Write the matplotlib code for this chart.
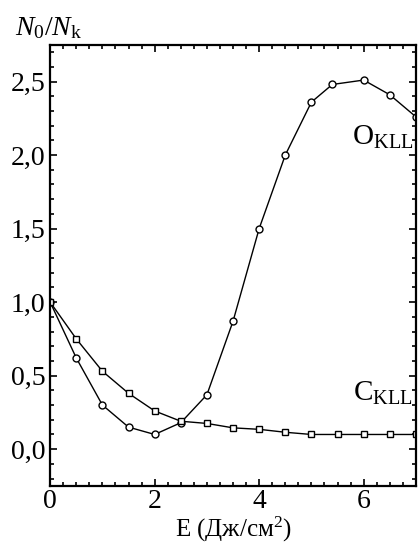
import matplotlib
matplotlib.use('Agg')
import matplotlib.pyplot as plt
from matplotlib.ticker import MultipleLocator, FuncFormatter

# Data
e_o = [0, 0.5, 1.0, 1.5, 2.0, 2.5, 3.0, 3.5, 4.0, 4.5, 5.0, 5.4, 6.0, 6.5, 7.0]
o_kll = [1.0, 0.62, 0.30, 0.15, 0.10, 0.18, 0.37, 0.87, 1.50, 2.00, 2.36, 2.48, 2.51, 2.41, 2.26]

e_c = [0, 0.5, 1.0, 1.5, 2.0, 2.5, 3.0, 3.5, 4.0, 4.5, 5.0, 5.5, 6.0, 6.5, 7.0]
c_kll = [1.0, 0.75, 0.53, 0.38, 0.26, 0.19, 0.175, 0.145, 0.135, 0.115, 0.10, 0.10, 0.10, 0.10, 0.10]

plt.rcParams['font.family'] = ['Liberation Serif', 'DejaVu Serif']
plt.rcParams['mathtext.fontset'] = 'custom'
plt.rcParams['mathtext.rm'] = 'Liberation Serif'
plt.rcParams['mathtext.it'] = 'Liberation Serif:italic'

fig = plt.figure(figsize=(4.18, 5.46), dpi=100)
ax = fig.add_axes([0.12, 0.11, 0.875, 0.808])

ax.plot(e_o, o_kll, color='black', lw=1.0, marker='o', ms=5,
        mfc='white', mec='black', mew=1.0)
ax.plot(e_c, c_kll, color='black', lw=1.0, marker='s', ms=5,
        mfc='white', mec='black', mew=1.0)

ax.set_xlim(0, 7)
ax.set_ylim(-0.25, 2.75)

ax.xaxis.set_major_locator(MultipleLocator(2))
ax.xaxis.set_minor_locator(MultipleLocator(0.25))
ax.yaxis.set_major_locator(MultipleLocator(0.5))
ax.yaxis.set_minor_locator(MultipleLocator(0.1))
ax.yaxis.set_major_formatter(FuncFormatter(lambda v, p: f'{v:.1f}'.replace('.', ',')))

ax.tick_params(which='both', direction='in', top=True, right=True, labelsize=20, width=1.2)
ax.tick_params(axis='x', pad=2)
ax.tick_params(which='major', length=5)
ax.tick_params(which='minor', length=3)
for s in ax.spines.values():
    s.set_linewidth(1.6)

ax.set_xlabel('E (Дж/см$^2$)', fontsize=18, labelpad=1)
fig.text(0.035, 0.935, r'$N_0/N_{\mathrm{k}}$', fontsize=20)

ax.text(6.95, 2.12, r'O$_{\mathrm{KLL}}$', fontsize=21, ha='right', va='center')
ax.text(6.95, 0.38, r'C$_{\mathrm{KLL}}$', fontsize=21, ha='right', va='center')

fig.savefig('out.png', dpi=100)
